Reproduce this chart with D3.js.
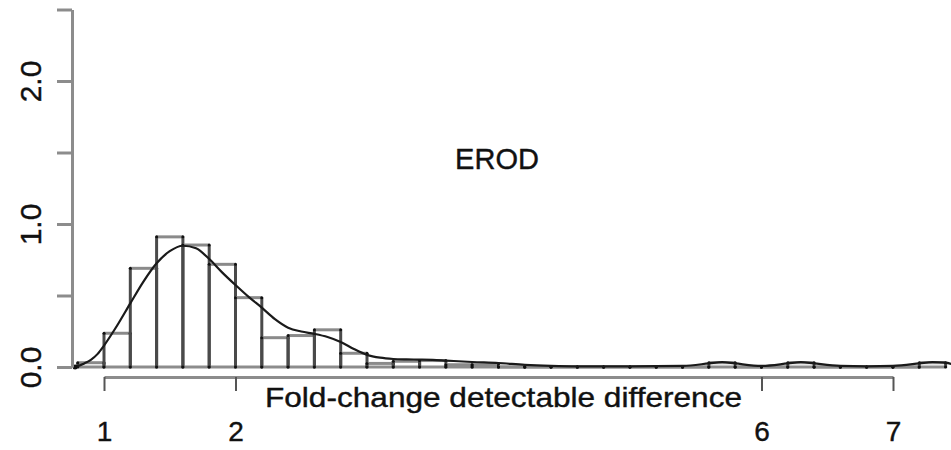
<!DOCTYPE html>
<html>
<head>
<meta charset="utf-8">
<script src="https://cdn.jsdelivr.net/npm/d3@7"></script>
<style>
  body { margin: 0; background: #fff; }
  svg { display: block; font-family: "Liberation Sans", Arial, sans-serif; }
</style>
</head>
<body>
<svg id="chart"></svg>
<script>
const width = 951;
const height = 450;

// histogram bins (start of each 0.2 wide bin) and their densities
const binStarts = [0.8, 1.0, 1.2, 1.4, 1.6, 1.8, 2.0, 2.2, 2.4, 2.6, 2.8, 3.0, 3.2, 3.4, 3.6, 3.8,
                   4.0, 4.2, 4.4, 4.6, 4.8, 5.0, 5.2, 5.4, 5.6, 5.8, 6.0, 6.2, 6.4, 6.6, 6.8, 7.0, 7.2];
const binWidth = 0.2;
const densities = [0.03, 0.236, 0.69, 0.91, 0.853, 0.718, 0.485, 0.205, 0.22, 0.26, 0.096, 0.025, 0.04, 0.045, 0.016, 0.016,
                   0, 0, 0, 0, 0, 0, 0, 0, 0.03, 0, 0, 0.03, 0, 0, 0, 0, 0.03];

// kernel density curve
const curveX = [0.78, 0.85, 0.9, 0.95, 1.0, 1.1, 1.2, 1.3, 1.4, 1.5, 1.6, 1.7, 1.8, 1.9, 2.0, 2.1, 2.2, 2.3, 2.4, 2.5, 2.6, 2.7, 2.8, 2.9,
                3.0, 3.1, 3.2, 3.3, 3.4, 3.5, 3.6, 3.8, 4.0, 4.2, 4.4, 4.6, 5.0, 5.4, 5.6, 5.7, 5.8, 6.0, 6.2, 6.3, 6.4, 6.6,
                6.8, 7.0, 7.2, 7.3, 7.4, 7.45];
const curveY = [0.0, 0.025, 0.05, 0.09, 0.15, 0.29, 0.445, 0.597, 0.725, 0.81, 0.848, 0.83, 0.755, 0.66, 0.573, 0.49, 0.415, 0.335, 0.275, 0.248, 0.232, 0.21, 0.175, 0.126,
                0.085, 0.065, 0.056, 0.053, 0.052, 0.05, 0.045, 0.035, 0.028, 0.015, 0.008, 0.005, 0.005, 0.008, 0.025, 0.035, 0.025, 0.008, 0.025, 0.035, 0.025, 0.008,
                0.005, 0.008, 0.025, 0.035, 0.03, 0.02];

const xTicks = [1, 2, 6, 7];
const yTicks = [0, 0.5, 1, 1.5, 2, 2.5];
const yLabels = {0: '0.0', 1: '1.0', 2: '2.0'};
const title = 'EROD';
const xTitle = 'Fold-change detectable difference';

const svg = d3.select('#chart')
            .attr('width', width)
            .attr('height', height);

svg.append('rect').attr('width', width).attr('height', height).attr('fill', '#fff');

const x = d3.scaleLinear().domain([1, 7]).range([104, 893]);
const y = d3.scaleLinear().domain([0, 2.5]).range([367, 9.5]);

const axisColor = '#8c8c8c';

// bars: light tops, darker sides
const bars = svg.append('g');
binStarts.forEach(function(b, i){
    const x0 = x(b), x1 = x(b + binWidth), y0 = y(0), y1 = y(densities[i]);
    bars.append('line')
        .attr('x1', x0).attr('x2', x1).attr('y1', y1).attr('y2', y1)
        .attr('stroke', '#8a8a8a').attr('stroke-width', 3);
    bars.append('line')
        .attr('x1', x0).attr('x2', x1).attr('y1', y0).attr('y2', y0)
        .attr('stroke', axisColor).attr('stroke-width', 3);
    [x0, x1].forEach(function(xx){
        bars.append('line')
            .attr('x1', xx).attr('x2', xx).attr('y1', y0 + 1).attr('y2', y1)
            .attr('stroke', '#4a4a4a').attr('stroke-width', 3);
        bars.append('circle').attr('cx', xx).attr('cy', y1).attr('r', 1.5).attr('fill', '#111');
        bars.append('circle').attr('cx', xx).attr('cy', y0).attr('r', 1.5).attr('fill', '#111');
    });
});

// density curve
const curveData = curveX.map(function(v, i){ return {x: v, y: curveY[i]}; });
svg.append('path')
    .datum(curveData)
    .attr('fill', 'none')
    .attr('stroke', '#1a1a1a')
    .attr('stroke-width', 2.2)
    .attr('d', d3.line().curve(d3.curveMonotoneX)
        .x(d => x(d.x))
        .y(d => y(d.y)));

svg.append('circle').attr('cx', x(curveX[0])).attr('cy', y(0)).attr('r', 2.5).attr('fill', '#111');

// y axis
const yAxis = svg.append('g')
    .attr('transform', 'translate(72, 0)')
    .call(d3.axisLeft(y).tickValues(yTicks).tickSize(15).tickSizeOuter(0)
        .tickFormat(d => yLabels[d] || ''));
yAxis.select('.domain').attr('stroke', axisColor).attr('stroke-width', 3);
yAxis.selectAll('.tick line').attr('stroke', axisColor).attr('stroke-width', 3);
yAxis.selectAll('.tick text')
    .attr('x', 0).attr('dy', 0)
    .attr('transform', 'translate(-39, 0) rotate(-90)')
    .attr('text-anchor', 'middle')
    .attr('dominant-baseline', 'middle')
    .attr('font-size', 30)
    .attr('font-family', '"Liberation Sans", Arial, sans-serif')
    .attr('fill', '#111')
    .attr('stroke', '#111').attr('stroke-width', 0.4);

// x axis
const xAxis = svg.append('g')
    .attr('transform', 'translate(0, 377)')
    .call(d3.axisBottom(x).tickValues(xTicks).tickSize(14).tickSizeOuter(0)
        .tickFormat(d3.format('d')));
xAxis.select('.domain').attr('stroke', axisColor).attr('stroke-width', 3);
xAxis.selectAll('.tick line').attr('stroke', '#555').attr('stroke-width', 2);
xAxis.selectAll('.tick text')
    .attr('y', 64).attr('dy', 0)
    .attr('font-size', 28)
    .attr('font-family', '"Liberation Sans", Arial, sans-serif')
    .attr('fill', '#111')
    .attr('stroke', '#111').attr('stroke-width', 0.4);

// labels
svg.append('text')
    .attr('x', 497).attr('y', 169)
    .attr('text-anchor', 'middle')
    .attr('font-size', 29)
    .attr('fill', '#111')
    .attr('stroke', '#111').attr('stroke-width', 0.4)
    .text(title);

svg.append('text')
    .attr('x', 265).attr('y', 407)
    .attr('font-size', 28)
    .attr('textLength', 477)
    .attr('lengthAdjust', 'spacingAndGlyphs')
    .attr('fill', '#111')
    .attr('stroke', '#111').attr('stroke-width', 0.4)
    .text(xTitle);
</script>
</body>
</html>
